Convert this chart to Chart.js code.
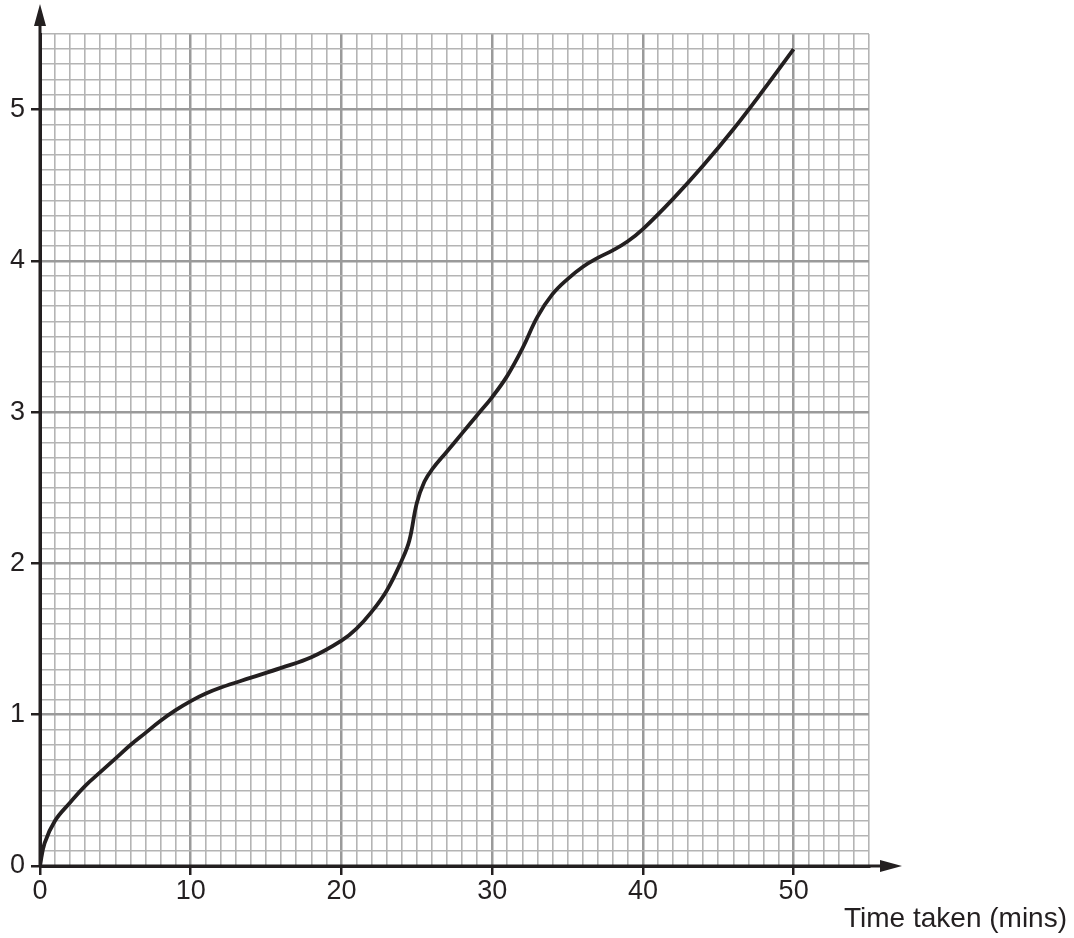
<!DOCTYPE html>
<html>
<head>
<meta charset="utf-8">
<script src="https://cdn.jsdelivr.net/npm/chart.js@4"></script>
<style>
  html, body { margin: 0; padding: 0; background: #fff; }
  #wrap { position: relative; width: 1074px; height: 938px; }
</style>
</head>
<body>
<div id="wrap"><canvas id="graph" width="1074" height="938"></canvas></div>
<script>
// time (mins) and distance
const times = [0, 0.3, 1, 2, 3, 4, 5, 6, 7, 8, 9, 10, 11, 12, 14, 16, 18, 20, 21, 22, 23, 24, 24.5, 25, 25.5, 26, 27, 28, 29, 30, 31, 32, 33, 34, 35, 36, 37, 38, 39, 40, 42, 44, 46, 48, 50];
const distances = [0, 0.15, 0.3, 0.42, 0.53, 0.62, 0.71, 0.8, 0.88, 0.96, 1.03, 1.09, 1.14, 1.18, 1.245, 1.31, 1.38, 1.49, 1.57, 1.68, 1.82, 2.02, 2.15, 2.4, 2.54, 2.62, 2.74, 2.86, 2.98, 3.1, 3.24, 3.42, 3.63, 3.78, 3.88, 3.96, 4.02, 4.07, 4.13, 4.21, 4.41, 4.63, 4.87, 5.13, 5.40];
const xMajor = [0, 10, 20, 30, 40, 50];
const yMajor = [0, 1, 2, 3, 4, 5];
const xTitle = 'Time taken (mins)';

const points = times.map((t, i) => ({ x: t, y: distances[i] }));

const isMajorX = v => xMajor.includes(Math.round(v * 1000) / 1000);
const isMajorY = v => yMajor.includes(Math.round(v * 1000) / 1000);

const tickFont = { family: "'Liberation Sans', Arial, sans-serif", size: 27 };

// axis arrows + x axis title
const arrows = {
  id: 'arrows',
  afterDraw(chart) {
    const ctx = chart.ctx;
    const x0 = chart.scales.x.getPixelForValue(0);
    const y0 = chart.scales.y.getPixelForValue(0);
    const right = chart.chartArea.right;
    ctx.save();
    ctx.strokeStyle = '#231f20';
    ctx.fillStyle = '#231f20';
    ctx.lineWidth = 3;
    ctx.beginPath();
    ctx.moveTo(x0, y0);
    ctx.lineTo(x0, 20);
    ctx.moveTo(x0, y0);
    ctx.lineTo(right + 18, y0);
    ctx.stroke();
    // up arrow
    ctx.beginPath();
    ctx.moveTo(x0, 4);
    ctx.lineTo(x0 - 6, 26);
    ctx.lineTo(x0 + 6, 26);
    ctx.closePath();
    ctx.fill();
    // right arrow
    ctx.beginPath();
    ctx.moveTo(right + 33, y0);
    ctx.lineTo(right + 11, y0 - 6);
    ctx.lineTo(right + 11, y0 + 6);
    ctx.closePath();
    ctx.fill();
    ctx.font = "28px 'Liberation Sans', Arial, sans-serif";
    ctx.textAlign = 'right';
    ctx.textBaseline = 'alphabetic';
    ctx.fillText(xTitle, 1067, 927);
    ctx.restore();
  }
};

new Chart(document.getElementById('graph'), {
  type: 'line',
  data: {
    datasets: [{
      data: points,
      borderColor: '#231f20',
      borderWidth: 3.8,
      pointRadius: 0,
      tension: 0.4,
      fill: false
    }]
  },
  options: {
    responsive: false,
    animation: false,
    layout: { padding: { top: 34, right: 205, left: 0, bottom: 0 } },
    plugins: { legend: { display: false }, tooltip: { enabled: false } },
    scales: {
      x: {
        type: 'linear',
        min: 0,
        max: 55,
        afterFit(scale) { scale.height = 72; },
        border: { display: true, color: '#231f20', width: 3 },
        grid: {
          color: c => isMajorX(c.tick.value) ? '#9a9a9a' : '#b4b4b4',
          lineWidth: c => isMajorX(c.tick.value) ? 2.5 : 1.6,
          tickColor: c => (c.tick && isMajorX(c.tick.value)) ? '#231f20' : 'rgba(0,0,0,0)',
          tickLength: 9,
          tickWidth: 2.5
        },
        ticks: {
          stepSize: 1,
          autoSkip: false,
          maxRotation: 0,
          padding: 0,
          color: '#231f20',
          font: tickFont,
          callback: v => isMajorX(v) ? String(Math.round(v)) : ''
        }
      },
      y: {
        type: 'linear',
        min: 0,
        max: 5.5,
        afterFit(scale) { scale.width = 40; },
        border: { display: true, color: '#231f20', width: 3 },
        grid: {
          color: c => isMajorY(c.tick.value) ? '#9a9a9a' : '#b4b4b4',
          lineWidth: c => isMajorY(c.tick.value) ? 2.5 : 1.6,
          tickColor: c => (c.tick && isMajorY(c.tick.value)) ? '#231f20' : 'rgba(0,0,0,0)',
          tickLength: 9,
          tickWidth: 2.5
        },
        ticks: {
          stepSize: 0.1,
          autoSkip: false,
          padding: 6,
          color: '#231f20',
          font: tickFont,
          callback: v => isMajorY(v) ? String(Math.round(v)) : ''
        }
      }
    }
  },
  plugins: [arrows]
});
</script>
</body>
</html>
